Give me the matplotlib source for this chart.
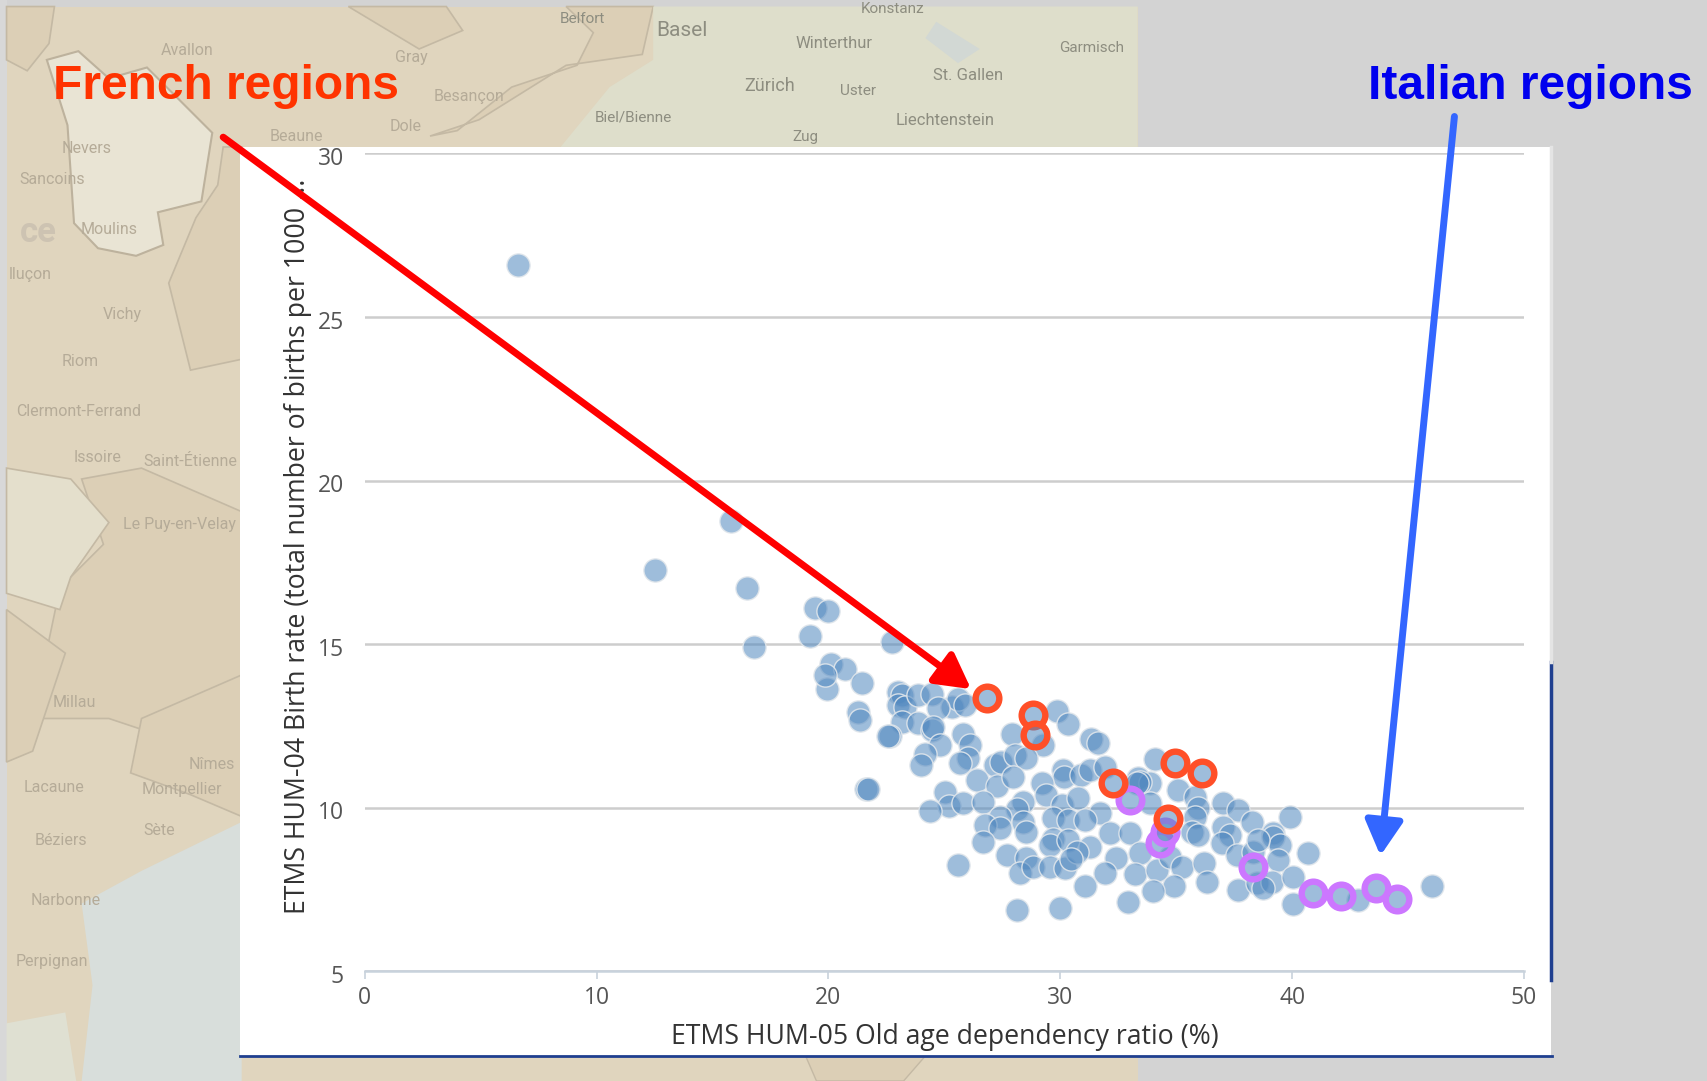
import matplotlib
matplotlib.use("Agg")
import matplotlib.pyplot as plt
from matplotlib.patches import Polygon, Rectangle
from matplotlib.transforms import ScaledTranslation

# ---- data ----
old_age = [
    6.6, 12.5, 15.8, 16.5, 16.8, 19.2, 19.4, 20.0,
    22.72, 20.13, 20.71, 19.92, 19.85, 21.43, 23.01, 23.15, 23.01, 23.30, 23.87, 24.45,
    25.31, 25.60, 25.88, 24.73, 21.28, 21.35, 23.15, 23.87, 24.45, 24.52, 22.65, 22.58,
    24.80, 25.81, 26.10, 24.16, 24.01, 26.03, 25.67, 29.84, 30.34, 27.92, 31.34, 31.63,
    29.26, 27.18, 27.46, 28.04, 28.54, 26.39, 27.25, 27.97, 21.60, 21.71, 25.02, 25.21,
    25.81, 24.40, 26.67, 30.12, 30.17, 29.19, 29.40, 30.91, 31.27, 31.92, 28.40, 28.11,
    30.05, 30.77, 31.70, 27.39, 26.75, 27.39, 26.67, 28.40, 28.54, 29.69, 30.34, 31.06,
    29.69, 29.55, 30.34, 31.27, 27.68, 28.54, 28.25, 28.83, 29.55, 30.19, 30.70, 30.48,
    25.60, 31.06, 29.98, 28.14,
    34.08, 33.36, 33.87, 33.43, 35.09, 35.81, 33.29, 37.03, 37.68, 38.25, 39.90, 35.95,
    35.81, 35.66, 35.95, 33.87, 32.14, 33.00, 37.03, 37.32, 36.96, 39.18, 39.18, 39.47,
    40.69, 37.60, 38.32, 39.40, 38.54, 33.43, 32.40, 31.93, 33.22, 34.15, 34.73, 35.23,
    36.19, 36.34, 34.90, 33.98, 32.93, 37.68, 38.47, 39.11, 38.75, 40.05, 40.02, 42.85,
    46.01,
]
birth_rate = [
    26.6, 17.25, 18.75, 16.7, 14.9, 15.25, 16.1, 16.0,
    15.07, 14.40, 14.25, 13.64, 14.05, 13.81, 13.54, 13.44, 13.13, 13.06, 13.44, 13.47,
    13.06, 13.33, 13.13, 13.03, 12.93, 12.67, 12.62, 12.57, 12.37, 12.47, 12.18, 12.18,
    11.91, 12.26, 11.91, 11.65, 11.30, 11.50, 11.35, 12.96, 12.55, 12.26, 12.11, 11.96,
    11.91, 11.30, 11.40, 11.60, 11.50, 10.84, 10.66, 10.94, 10.58, 10.56, 10.46, 10.04,
    10.14, 9.90, 10.17, 11.14, 10.94, 10.74, 10.38, 10.99, 11.14, 11.24, 10.17, 9.97,
    10.07, 10.28, 9.82, 9.71, 9.46, 9.36, 8.95, 9.56, 9.26, 9.67, 9.61, 9.61,
    9.05, 8.85, 9.00, 8.80, 8.56, 8.46, 8.00, 8.19, 8.19, 8.14, 8.65, 8.44,
    8.24, 7.61, 6.94, 6.86,
    11.48, 10.89, 10.74, 10.79, 10.54, 10.33, 10.74, 10.15, 9.93, 9.57, 9.72, 9.98,
    9.72, 9.26, 9.16, 10.13, 9.21, 9.21, 9.42, 9.16, 8.91, 9.21, 9.11, 8.86,
    8.62, 8.55, 8.65, 8.40, 9.01, 8.60, 8.45, 8.01, 7.97, 8.09, 8.50, 8.19,
    8.30, 7.73, 7.60, 7.46, 7.10, 7.48, 7.68, 7.73, 7.53, 7.89, 7.05, 7.17,
    7.61,
]
french_x = [26.82, 28.83, 28.90, 34.94, 36.09, 32.26, 34.66]
french_y = [13.35, 12.82, 12.21, 11.37, 11.05, 10.74, 9.64]
italian_x = [33.00, 34.30, 34.51, 38.29, 40.91, 42.09, 43.60, 44.53]
italian_y = [10.23, 8.91, 9.26, 8.19, 7.38, 7.28, 7.55, 7.19]

x_ticks = [0, 10, 20, 30, 40, 50]
y_ticks = [5, 10, 15, 20, 25, 30]
x_title = "ETMS HUM-05 Old age dependency ratio (%)"
y_title = "ETMS HUM-04 Birth rate (total number of births per 1000 ..."

map_labels = [
    ("Avallon", 172, 46), ("Gray", 378, 53), ("Besançon", 431, 89), ("Dole", 373, 116),
    ("Beaune", 272, 125), ("Nevers", 80, 136), ("Sancoins", 48, 165), ("Moulins", 100, 211),
    ("lluçon", 28, 252), ("Vichy", 112, 289), ("Riom", 74, 332), ("Clermont-Ferrand", 72, 378),
    ("Issoire", 90, 420), ("Saint-Étienne", 175, 424), ("Le Puy-en-Velay", 165, 482),
    ("Millau", 68, 645), ("Nîmes", 195, 702), ("Montpellier", 167, 725), ("Béziers", 56, 772),
    ("Sète", 146, 763), ("Narbonne", 60, 827), ("Perpignan", 48, 883), ("Lacaune", 50, 723),
]
swiss_labels = [
    ("Basel", 626, 28, 15), ("Winterthur", 766, 40, 12), ("Zürich", 707, 79, 13), ("Uster", 788, 84, 11),
    ("St. Gallen", 889, 69, 12), ("Garmisch", 1003, 44, 11), ("Biel/Bienne", 582, 108, 11),
    ("Liechtenstein", 868, 111, 12), ("Konstanz", 820, 8, 11), ("Zug", 740, 126, 11), ("Belfort", 535, 17, 11),
]

plt.rcParams["font.family"] = ["Open Sans", "DejaVu Sans"]

fig = plt.figure(figsize=(17.07, 10.81), dpi=100, facecolor="#d3d3d3")

# background map, coordinates in pixels of the shrunk picture
bg = fig.add_axes([0, 0, 1, 1], zorder=0)
bg.set_xlim(0, 1568)
bg.set_ylim(993, 0)
bg.axis("off")
bg.add_patch(Rectangle((6, 6), 1039, 987, color="#e0d5be", lw=0))
bg.add_patch(Rectangle((0, 0), 6, 993, color="#d8d8d8", lw=0))

dark = [
    [(6, 6), (50, 6), (45, 40), (25, 65), (6, 55)],
    [(320, 6), (410, 6), (425, 28), (385, 45), (360, 30)],
    [(395, 125), (440, 110), (520, 60), (590, 50), (600, 6), (520, 6), (545, 30), (530, 60), (470, 80), (420, 120)],
    [(205, 135), (222, 135), (222, 330), (175, 340), (155, 260), (180, 200), (200, 170)],
    [(75, 440), (130, 430), (222, 470), (222, 640), (160, 680), (100, 660), (30, 660), (55, 540), (95, 500)],
    [(6, 560), (60, 600), (30, 690), (6, 700)],
    [(130, 660), (222, 620), (222, 750), (175, 730), (120, 710)],
]
for pts in dark:
    bg.add_patch(Polygon(pts, closed=True, fc="#dccfb6", ec="#c4b9a4", lw=1.2))
bg.add_patch(Polygon([(43, 55), (72, 47), (100, 72), (135, 62), (195, 122), (185, 185), (145, 195),
                      (150, 225), (125, 235), (90, 228), (68, 205), (62, 115)],
                     closed=True, fc="#e9e4d4", ec="#bdb29d", lw=1.5))
bg.add_patch(Polygon([(6, 430), (65, 440), (100, 480), (65, 530), (55, 560), (6, 545)],
                     closed=True, fc="#e4dfcc", ec="#c4b9a4", lw=1.2))
bg.add_patch(Polygon([(600, 6), (1045, 6), (1045, 135), (515, 135), (560, 80), (600, 55)],
                     closed=True, fc="#dedecb", ec="none"))
bg.add_patch(Polygon([(860, 20), (900, 45), (880, 58), (850, 35)], closed=True, fc="#d2d8d4", ec="none"))
bg.add_patch(Polygon([(75, 830), (130, 800), (222, 755), (222, 993), (75, 993), (85, 905)],
                     closed=True, fc="#d8dedb", ec="none"))
bg.add_patch(Polygon([(6, 940), (60, 930), (70, 993), (6, 993)], closed=True, fc="#dfe0d2", ec="none"))
bg.add_patch(Polygon([(740, 970), (850, 970), (830, 993), (750, 993)], closed=True, fc="#dccfb6", ec="#c4b9a4", lw=1))
bg.add_patch(Rectangle((1045, 0), 523, 993, color="#d3d3d3", lw=0))
for name, px, py in map_labels:
    bg.text(px, py, name, ha="center", va="center", fontsize=11.5, color="#b5ab98", family="Roboto")
for name, px, py, fs in swiss_labels:
    bg.text(px, py, name, ha="center", va="center", fontsize=fs, color="#8d8d80", family="Roboto")
bg.text(35, 214, "ce", ha="center", va="center", fontsize=25, color="#cdc3b2", fontweight="bold", family="Roboto")

# white chart panel
bg.add_patch(Rectangle((220, 135), 1205, 835, fc="white", ec="none", zorder=3))
bg.plot([220, 1426], [970, 970], color="#1f3f8f", lw=2, zorder=4)
bg.plot([1425, 1425], [608, 900], color="#1f3f8f", lw=2.5, zorder=4)
bg.plot([1425, 1425], [135, 608], color="#e4e4e4", lw=2.5, zorder=4)

# scatter
ax = fig.add_axes([335 / 1568, 1 - 892 / 993, 1065 / 1568, 751 / 993], zorder=1)
ax.patch.set_alpha(0)
ax.set_xlim(0, 50)
ax.set_ylim(5, 30)
ax.scatter(old_age, birth_rate, s=280, color=(0.31, 0.53, 0.75, 0.55),
           edgecolors=(0.88, 0.9, 0.92, 0.9), linewidths=1.0, zorder=3, clip_on=False)
ax.scatter(italian_x, italian_y, s=290, color=(0.31, 0.53, 0.75, 0.55), edgecolors="#cc77ff",
           linewidths=4.6, zorder=4)
ax.scatter(french_x, french_y, s=290, color=(0.31, 0.53, 0.75, 0.55), edgecolors="#ff4f28",
           linewidths=4.6, zorder=5)

ax.set_xticks(x_ticks)
ax.set_yticks(y_ticks)
ax.grid(axis="y", color="#cdcdcd", lw=1.8, zorder=1)
ax.set_axisbelow(True)
for side in ["top", "right", "left"]:
    ax.spines[side].set_visible(False)
ax.spines["bottom"].set_color("#c8d2dc")
ax.spines["bottom"].set_linewidth(1.8)
ax.tick_params(axis="x", length=6, color="#c8d2dc", width=1.2, labelsize=16.5, labelcolor="#555555", pad=5)
ax.tick_params(axis="y", length=0, labelsize=16.5, labelcolor="#555555", pad=15)
# the y numbers sit a little under their gridlines in the original
shift_down = ScaledTranslation(0, -2 / 72, fig.dpi_scale_trans)
for lab in ax.get_yticklabels():
    lab.set_transform(lab.get_transform() + shift_down)
ax.set_xlabel(x_title, fontsize=19.2, color="#333333", labelpad=9)
ax.set_ylabel(y_title, fontsize=19.2, color="#333333", labelpad=4)
ax.yaxis.label.set_position((0, 0.52))

# annotations go on top of everything
top = fig.add_axes([0, 0, 1, 1], zorder=2)
top.set_xlim(0, 1568)
top.set_ylim(993, 0)
top.axis("off")
top.patch.set_alpha(0)
top.annotate("", xy=(892, 633), xytext=(205, 126),
             arrowprops=dict(arrowstyle="-|>,head_length=2.1,head_width=1.15", color="#ff0000", lw=5, shrinkA=0, shrinkB=0))
top.annotate("", xy=(1268, 786), xytext=(1336, 107),
             arrowprops=dict(arrowstyle="-|>,head_length=2.1,head_width=1.15", color="#3366ff", lw=5, shrinkA=0, shrinkB=0))
top.text(49, 79, "French regions", color="#ff3300", fontsize=34.5, fontweight="bold",
         family="Liberation Sans", va="center", ha="left")
top.text(1257, 79, "Italian regions", color="#0000ee", fontsize=34.5, fontweight="bold",
         family="Liberation Sans", va="center", ha="left")

fig.savefig("out.png", dpi=100, facecolor=fig.get_facecolor())
